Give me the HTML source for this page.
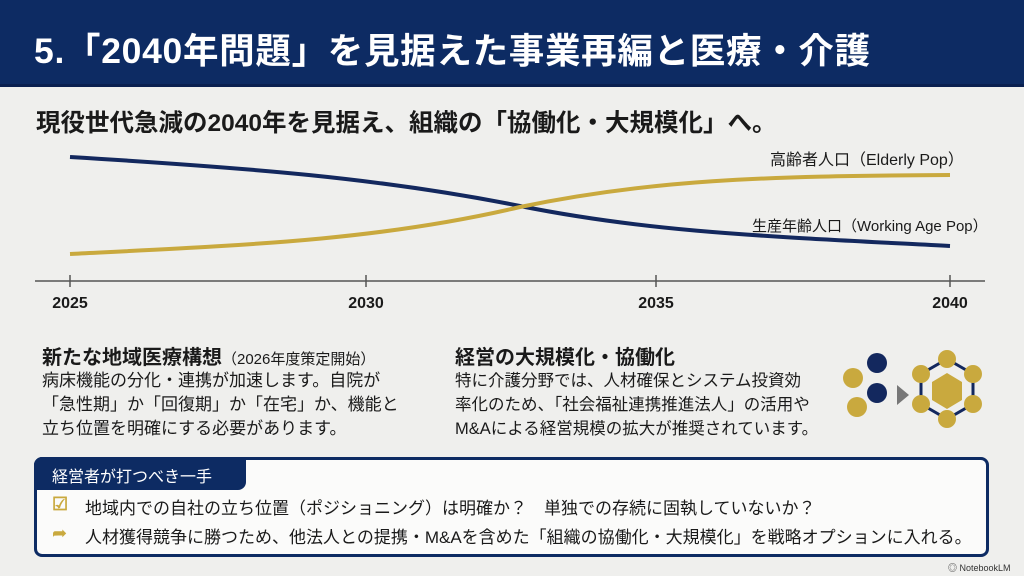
<!DOCTYPE html>
<html><head><meta charset="utf-8"><style>
*{margin:0;padding:0;box-sizing:border-box}
body{width:1024px;height:576px;overflow:hidden;background:#efefed;font-family:"Liberation Sans","Noto Sans CJK JP",sans-serif;color:#1a1a1a;position:relative}
.hdr{position:absolute;left:0;top:0;width:1024px;height:87px;background:#0d2b63;color:#fff;font-weight:bold;font-size:35.5px;padding:23px 0 0 34px;letter-spacing:0.7px;border-bottom:3px solid #0a2050}
.t{position:absolute;white-space:nowrap}
</style></head><body>
<div class="hdr">5.「2040年問題」を見据えた事業再編と医療・介護</div>
<div class="t" style="left:36px;top:104px;font-size:24.5px;font-weight:bold">現役世代急減の2040年を見据え、組織の「協働化・大規模化」へ。</div>
<svg style="position:absolute;left:0;top:0" width="1024" height="330">
<line x1="35" y1="281" x2="985" y2="281" stroke="#555" stroke-width="1.5"/>
<g stroke="#555" stroke-width="1.5"><line x1="70" y1="275" x2="70" y2="287"/><line x1="366" y1="275" x2="366" y2="287"/><line x1="656" y1="275" x2="656" y2="287"/><line x1="950" y1="275" x2="950" y2="287"/></g>
<path d="M70 157 C250 168 380 178 520 206 C650 232 760 236 950 246" fill="none" stroke="#13285e" stroke-width="4"/>
<path d="M70 254 C250 245 380 240 520 207 C650 180 760 176 950 175" fill="none" stroke="#c9a93e" stroke-width="4"/>
<g font-size="16" font-weight="bold" fill="#1a1a1a" text-anchor="middle"><text x="70" y="308">2025</text><text x="366" y="308">2030</text><text x="656" y="308">2035</text><text x="950" y="308">2040</text></g>
<text x="770" y="165" font-size="16" fill="#1a1a1a">高齢者人口（Elderly Pop）</text>
<text x="752" y="231" font-size="15" fill="#1a1a1a">生産年齢人口（Working Age Pop）</text>
</svg>
<div class="t" style="left:42px;top:341px;font-size:20px;font-weight:bold">新たな地域医療構想<span style="font-size:15px;font-weight:normal">（2026年度策定開始）</span></div>
<div class="t" style="left:42px;top:369px;font-size:17px;line-height:24px">病床機能の分化・連携が加速します。自院が<br>「急性期」か「回復期」か「在宅」か、機能と<br>立ち位置を明確にする必要があります。</div>
<div class="t" style="left:455px;top:341px;font-size:20px;font-weight:bold">経営の大規模化・協働化</div>
<div class="t" style="left:455px;top:369px;font-size:16.5px;line-height:24px">特に介護分野では、人材確保とシステム投資効<br>率化のため、「社会福祉連携推進法人」の活用や<br>M&amp;Aによる経営規模の拡大が推奨されています。</div>
<svg style="position:absolute;left:835px;top:345px" width="160" height="95">
<circle cx="18" cy="33" r="10" fill="#c9a93e"/><circle cx="22" cy="62" r="10" fill="#c9a93e"/>
<circle cx="42" cy="18" r="10" fill="#13285e"/><circle cx="42" cy="48" r="10" fill="#13285e"/>
<polygon points="62,40 74,50 62,60" fill="#777"/>
<polygon points="112,14 138,29 138,59 112,74 86,59 86,29" fill="none" stroke="#13285e" stroke-width="3"/>
<polygon points="112,28 127,37 127,55 112,64 97,55 97,37" fill="#c9a93e"/>
<g fill="#c9a93e"><circle cx="112" cy="14" r="9"/><circle cx="138" cy="29" r="9"/><circle cx="138" cy="59" r="9"/><circle cx="112" cy="74" r="9"/><circle cx="86" cy="59" r="9"/><circle cx="86" cy="29" r="9"/></g>
</svg>
<div style="position:absolute;left:34px;top:457px;width:955px;height:100px;border:3px solid #0d2b63;border-radius:8px;background:#fbfbfa"></div>
<div style="position:absolute;left:34px;top:457px;width:212px;height:33px;background:#0d2b63;border-radius:8px 0 8px 0;color:#fff;font-size:16px;padding:6px 0 0 18px">経営者が打つべき一手</div>
<div class="t" style="left:52px;top:494px;font-size:18px;color:#c9a93e;font-weight:bold">☑</div>
<div class="t" style="left:85px;top:494px;font-size:17px">地域内での自社の立ち位置（ポジショニング）は明確か？　単独での存続に固執していないか？</div>
<div class="t" style="left:52px;top:523px;font-size:18px;color:#c9a93e">➦</div>
<div class="t" style="left:85px;top:523px;font-size:17px">人材獲得競争に勝つため、他法人との提携・M&amp;Aを含めた「組織の協働化・大規模化」を戦略オプションに入れる。</div>
<div class="t" style="left:948px;top:561px;font-size:9px;color:#333">◎ NotebookLM</div>
</body></html>
